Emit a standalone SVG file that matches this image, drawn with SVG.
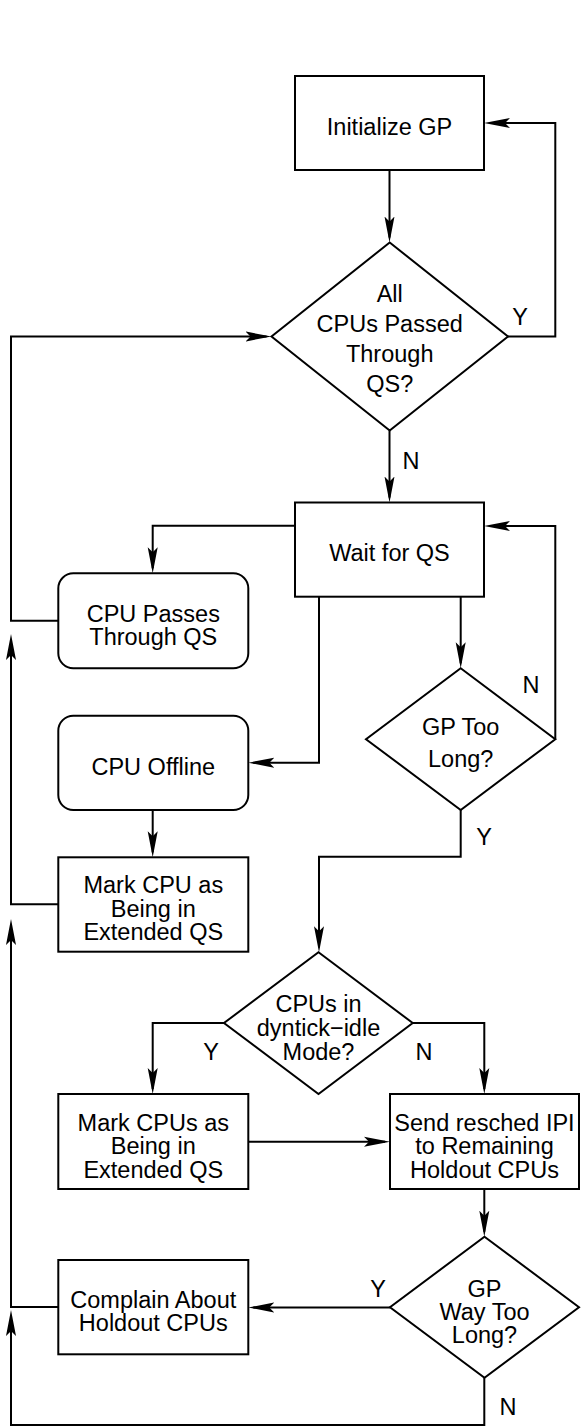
<svg xmlns="http://www.w3.org/2000/svg" width="581" height="1427" viewBox="0 0 581 1427">
<style>
.box{fill:#fff;stroke:#000;stroke-width:2}
.ln{fill:none;stroke:#000;stroke-width:2;marker-end:url(#ah)}
.pl{fill:none;stroke:#000;stroke-width:2}
text{font-family:"Liberation Sans",Arial,Helvetica,sans-serif;font-size:23.5px;fill:#000;text-anchor:middle}
</style>
<defs>
<marker id="ah" markerUnits="userSpaceOnUse" markerWidth="28" markerHeight="12" refX="21" refY="6" orient="auto">
<path d="M26,6 L0,1 L5,6 L0,11 Z" fill="#000"/>
</marker>
</defs>
<rect width="581" height="1427" fill="#fff"/>
<g id="connectors">
<path class="ln" d="M389.5,170 V237.5"/>
<path class="ln" d="M508,336.5 H555.3 V123 H489"/>
<path class="ln" d="M389.5,430.5 V497.5"/>
<path class="ln" d="M295,525.7 H152.7 V568.3"/>
<path class="ln" d="M319,596.7 V762.7 H253.3"/>
<path class="ln" d="M460.7,596.7 V663.3"/>
<path class="ln" d="M555.3,739.2 V526 H489"/>
<path class="ln" d="M460.7,810 V856.7 H319 V947.3"/>
<path class="ln" d="M152.7,810 V852.3"/>
<path class="ln" d="M224,1023 H152.7 V1089"/>
<path class="ln" d="M412.7,1023 H484.3 V1089"/>
<path class="ln" d="M248.3,1141.7 H385"/>
<path class="ln" d="M484.3,1189 V1231.7"/>
<path class="ln" d="M390,1307.5 H253.3"/>
<path class="ln" d="M484.3,1377.7 V1425 H11 V1315"/>
<path class="ln" d="M58.3,1307 H11 V924"/>
<path class="ln" d="M58.3,904.3 H11 V639"/>
<path class="ln" d="M58.3,620.7 H11 V336.5 H266.5"/>
</g>
<g id="labels">
<text x="520" y="324.5">Y</text>
<text x="411" y="469">N</text>
<text x="531" y="692.5">N</text>
<text x="484" y="845">Y</text>
<text x="211" y="1060">Y</text>
<text x="424" y="1060">N</text>
<text x="378" y="1296.7">Y</text>
<text x="508" y="1414.5">N</text>
</g>
<g id="init">
<rect class="box" x="295" y="76" width="189" height="94"/>
<text x="389.5" y="135">Initialize GP</text>
</g>
<g id="allpassed">
<polygon class="box" points="389.7,242.5 508,336.5 389.7,430.5 271.5,336.5"/>
<text x="389.7" y="301.5">All</text>
<text x="389.7" y="331.8">CPUs Passed</text>
<text x="389.7" y="362.3">Through</text>
<text x="389.7" y="392.3">QS?</text>
</g>
<g id="wait">
<rect class="box" x="295" y="502.5" width="189" height="94.2"/>
<text x="389.5" y="561">Wait for QS</text>
</g>
<g id="passes">
<rect class="box" x="58.3" y="573.3" width="190" height="95" rx="15" ry="15"/>
<text x="153.3" y="621.5">CPU Passes</text>
<text x="153.3" y="644.5">Through QS</text>
</g>
<g id="offline">
<rect class="box" x="58.3" y="715.7" width="190" height="94.3" rx="15" ry="15"/>
<text x="153.3" y="775">CPU Offline</text>
</g>
<g id="toolong">
<polygon class="box" points="460.7,668.3 555.3,739.2 460.7,810 366,739.2"/>
<text x="460.7" y="735">GP Too</text>
<text x="460.7" y="766.7">Long?</text>
</g>
<g id="markcpu">
<rect class="box" x="58.3" y="857.3" width="190" height="94.4"/>
<text x="153.3" y="893.4">Mark CPU as</text>
<text x="153.3" y="916.7">Being in</text>
<text x="153.3" y="940">Extended QS</text>
</g>
<g id="dyntick">
<polygon class="box" points="318.5,952.3 412.7,1023 318.5,1094 224,1023"/>
<text x="318.5" y="1011.5">CPUs in</text>
<text x="318.5" y="1036">dyntick−idle</text>
<text x="318.5" y="1060">Mode?</text>
</g>
<g id="markcpus">
<rect class="box" x="58.3" y="1094" width="190" height="95"/>
<text x="153.3" y="1131">Mark CPUs as</text>
<text x="153.3" y="1154.3">Being in</text>
<text x="153.3" y="1177.6">Extended QS</text>
</g>
<g id="resched">
<rect class="box" x="390" y="1094" width="189" height="95"/>
<text x="484.5" y="1131">Send resched IPI</text>
<text x="484.5" y="1154.3">to Remaining</text>
<text x="484.5" y="1177.6">Holdout CPUs</text>
</g>
<g id="waytoolong">
<polygon class="box" points="484.5,1236.7 579,1307.2 484.5,1377.7 390,1307.2"/>
<text x="484.5" y="1296.7">GP</text>
<text x="484.5" y="1320">Way Too</text>
<text x="484.5" y="1342.7">Long?</text>
</g>
<g id="complain">
<rect class="box" x="58.3" y="1260" width="190" height="94.3"/>
<text x="153.3" y="1307.7">Complain About</text>
<text x="153.3" y="1331">Holdout CPUs</text>
</g>
</svg>
